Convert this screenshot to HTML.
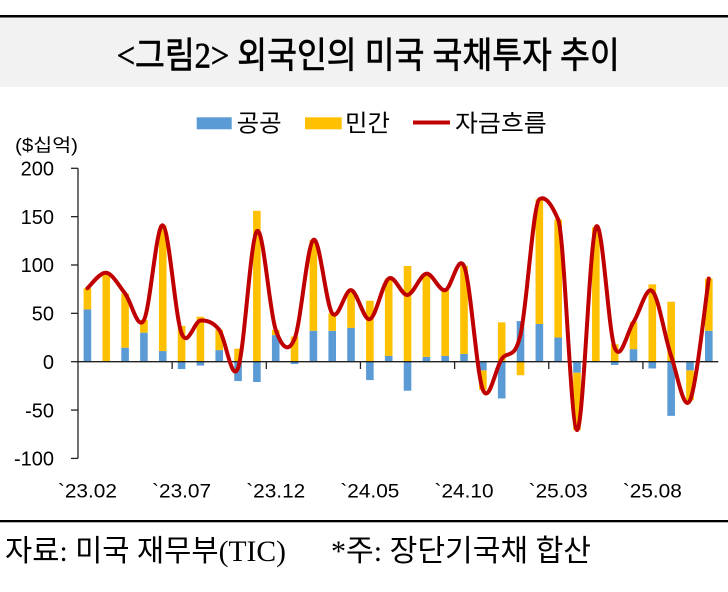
<!DOCTYPE html>
<html>
<head>
<meta charset="utf-8">
<style>
  html, body { margin:0; padding:0; background:#fff; }
  svg { display:block; }
  .kr { font-family: "Liberation Sans", "Noto Sans CJK KR", sans-serif; }
  .ttl { font-family: "Liberation Serif", "Noto Sans CJK KR", serif; }
  .num { font-family: "Liberation Sans", sans-serif; }
</style>
</head>
<body>
<svg width="728" height="592" viewBox="0 0 728 592" xmlns="http://www.w3.org/2000/svg">
  <rect x="0" y="0" width="728" height="592" fill="#ffffff"/>
  <!-- title band -->
  <rect x="0" y="17" width="728" height="70" fill="#F2F2F2"/>
  <rect x="0" y="15" width="728" height="2.5" fill="#000"/>
  <text class="ttl" x="116.7" y="67.5" font-size="36" fill="#000" stroke="#000" stroke-width="0.7" textLength="503" lengthAdjust="spacingAndGlyphs">&lt;그림2&gt; 외국인의 미국 국채투자 추이</text>

  <!-- legend -->
  <rect x="196.7" y="117.3" width="35" height="12" fill="#5B9BD5"/>
  <text class="kr" x="236.7" y="131.5" font-size="24" fill="#000" textLength="45" lengthAdjust="spacingAndGlyphs">공공</text>
  <rect x="305" y="117.3" width="36.7" height="12" fill="#FFC000"/>
  <text class="kr" x="345" y="131.5" font-size="24" fill="#000" textLength="45" lengthAdjust="spacingAndGlyphs">민간</text>
  <line x1="413" y1="122.5" x2="450" y2="122.5" stroke="#C00000" stroke-width="4"/>
  <text class="kr" x="455" y="131.5" font-size="24" fill="#000" textLength="91.7" lengthAdjust="spacingAndGlyphs">자금흐름</text>

  <!-- unit -->
  <text class="kr" x="15" y="151.5" font-size="18" fill="#000" textLength="63" lengthAdjust="spacingAndGlyphs">($십억)</text>

  <!-- y labels -->
  <g class="num" font-size="20" fill="#000" text-anchor="end">
    <text x="54" y="175.5">200</text>
    <text x="54" y="223.85">150</text>
    <text x="54" y="272.2">100</text>
    <text x="54" y="320.55">50</text>
    <text x="54" y="368.9">0</text>
    <text x="54" y="417.25">-50</text>
    <text x="54" y="465.6">-100</text>
  </g>

  <!-- bars: public (blue) -->
  <g fill="#5B9BD5">
    <rect x="83.62" y="309.48" width="7.6" height="52.22"/>
    <rect x="121.28" y="347.68" width="7.6" height="14.02"/>
    <rect x="140.11" y="332.69" width="7.6" height="29.01"/>
    <rect x="158.94" y="351.06" width="7.6" height="10.64"/>
    <rect x="177.77" y="361.7" width="7.6" height="7.35"/>
    <rect x="196.60" y="361.7" width="7.6" height="3.87"/>
    <rect x="215.43" y="350.10" width="7.6" height="11.60"/>
    <rect x="234.26" y="361.7" width="7.6" height="19.34"/>
    <rect x="253.09" y="361.7" width="7.6" height="20.31"/>
    <rect x="271.92" y="335.11" width="7.6" height="26.59"/>
    <rect x="290.75" y="361.7" width="7.6" height="2.32"/>
    <rect x="309.58" y="330.76" width="7.6" height="30.94"/>
    <rect x="328.41" y="330.76" width="7.6" height="30.94"/>
    <rect x="347.24" y="327.85" width="7.6" height="33.85"/>
    <rect x="366.07" y="361.7" width="7.6" height="18.37"/>
    <rect x="384.90" y="355.90" width="7.6" height="5.80"/>
    <rect x="403.73" y="361.7" width="7.6" height="29.01"/>
    <rect x="422.56" y="356.86" width="7.6" height="4.84"/>
    <rect x="441.39" y="355.90" width="7.6" height="5.80"/>
    <rect x="460.22" y="353.96" width="7.6" height="7.74"/>
    <rect x="479.05" y="361.7" width="7.6" height="8.70"/>
    <rect x="497.88" y="361.7" width="7.6" height="36.75"/>
    <rect x="516.71" y="321.09" width="7.6" height="40.61"/>
    <rect x="535.54" y="323.99" width="7.6" height="37.71"/>
    <rect x="554.37" y="337.52" width="7.6" height="24.18"/>
    <rect x="573.20" y="361.7" width="7.6" height="11.02"/>
    <rect x="610.86" y="361.7" width="7.6" height="3.29"/>
    <rect x="629.69" y="349.13" width="7.6" height="12.57"/>
    <rect x="648.52" y="361.7" width="7.6" height="6.77"/>
    <rect x="667.35" y="361.7" width="7.6" height="54.15"/>
    <rect x="686.18" y="361.7" width="7.6" height="8.70"/>
    <rect x="705.01" y="330.76" width="7.6" height="30.94"/>
  </g>
  <!-- bars: private (yellow) -->
  <g fill="#FFC000">
    <rect x="83.62" y="288.21" width="7.6" height="21.27"/>
    <rect x="102.45" y="272.74" width="7.6" height="88.96"/>
    <rect x="121.28" y="293.53" width="7.6" height="54.15"/>
    <rect x="140.11" y="320.12" width="7.6" height="12.57"/>
    <rect x="158.94" y="225.35" width="7.6" height="125.71"/>
    <rect x="177.77" y="325.92" width="7.6" height="35.78"/>
    <rect x="196.60" y="316.73" width="7.6" height="44.97"/>
    <rect x="215.43" y="329.79" width="7.6" height="20.31"/>
    <rect x="234.26" y="348.74" width="7.6" height="12.96"/>
    <rect x="253.09" y="210.85" width="7.6" height="150.85"/>
    <rect x="271.92" y="329.79" width="7.6" height="5.32"/>
    <rect x="290.75" y="336.56" width="7.6" height="25.14"/>
    <rect x="309.58" y="239.86" width="7.6" height="90.90"/>
    <rect x="328.41" y="313.35" width="7.6" height="17.41"/>
    <rect x="347.24" y="290.14" width="7.6" height="37.71"/>
    <rect x="366.07" y="300.78" width="7.6" height="60.92"/>
    <rect x="384.90" y="278.54" width="7.6" height="77.36"/>
    <rect x="403.73" y="265.97" width="7.6" height="95.73"/>
    <rect x="422.56" y="273.70" width="7.6" height="83.16"/>
    <rect x="441.39" y="290.14" width="7.6" height="65.76"/>
    <rect x="460.22" y="265.97" width="7.6" height="87.99"/>
    <rect x="479.05" y="370.40" width="7.6" height="19.34"/>
    <rect x="497.88" y="322.34" width="7.6" height="39.36"/>
    <rect x="516.71" y="361.7" width="7.6" height="13.54"/>
    <rect x="535.54" y="199.24" width="7.6" height="124.75"/>
    <rect x="554.37" y="219.55" width="7.6" height="117.97"/>
    <rect x="573.20" y="372.72" width="7.6" height="57.34"/>
    <rect x="592.03" y="227.29" width="7.6" height="134.41"/>
    <rect x="610.86" y="344.29" width="7.6" height="17.41"/>
    <rect x="629.69" y="322.05" width="7.6" height="27.08"/>
    <rect x="648.52" y="284.34" width="7.6" height="77.36"/>
    <rect x="667.35" y="301.75" width="7.6" height="59.95"/>
    <rect x="686.18" y="370.40" width="7.6" height="29.98"/>
    <rect x="705.01" y="278.54" width="7.6" height="52.22"/>
  </g>

  <!-- axes -->
  <g stroke="#222" stroke-width="1.3" fill="none">
    <line x1="78" y1="168.3" x2="78" y2="458.4"/>
    <line x1="71" y1="168.3" x2="78" y2="168.3"/>
    <line x1="71" y1="216.65" x2="78" y2="216.65"/>
    <line x1="71" y1="265.0" x2="78" y2="265.0"/>
    <line x1="71" y1="313.35" x2="78" y2="313.35"/>
    <line x1="71" y1="361.7" x2="78" y2="361.7"/>
    <line x1="71" y1="410.05" x2="78" y2="410.05"/>
    <line x1="71" y1="458.4" x2="78" y2="458.4"/>
    <line x1="78" y1="361.7" x2="718.3" y2="361.7"/>
    <line x1="172.15" y1="361.7" x2="172.15" y2="369"/>
    <line x1="266.3" y1="361.7" x2="266.3" y2="369"/>
    <line x1="360.45" y1="361.7" x2="360.45" y2="369"/>
    <line x1="454.6" y1="361.7" x2="454.6" y2="369"/>
    <line x1="548.75" y1="361.7" x2="548.75" y2="369"/>
    <line x1="642.9" y1="361.7" x2="642.9" y2="369"/>
  </g>

  <!-- flow line -->
  <path fill="none" stroke="#C00000" stroke-width="4" stroke-linejoin="round" stroke-linecap="round"
    d="M 87.42 288.21
       C 90.56 285.63, 99.97 271.85, 106.25 272.74
       C 112.53 273.63, 118.80 285.63, 125.08 293.53
       C 131.36 301.43, 137.63 331.48, 143.91 320.12
       C 150.19 308.76, 156.46 223.16, 162.74 225.35
       C 169.02 227.54, 175.29 317.39, 181.57 333.27
       C 187.85 349.15, 194.12 321.18, 200.40 320.60
       C 206.68 320.02, 212.95 321.88, 219.23 329.79
       C 225.51 337.70, 231.78 384.52, 238.06 368.08
       C 244.34 351.64, 250.61 237.53, 256.89 231.15
       C 263.17 224.77, 269.44 311.83, 275.72 329.79
       C 282.00 347.75, 288.27 353.87, 294.55 338.88
       C 300.83 323.89, 307.10 244.12, 313.38 239.86
       C 319.66 235.60, 325.93 304.97, 332.21 313.35
       C 338.49 321.73, 344.76 289.17, 351.04 290.14
       C 357.32 291.11, 363.59 321.08, 369.87 319.15
       C 376.15 317.22, 382.42 282.57, 388.70 278.54
       C 394.98 274.51, 401.25 295.79, 407.53 294.98
       C 413.81 294.17, 420.08 274.51, 426.36 273.70
       C 432.64 272.89, 438.91 291.43, 445.19 290.14
       C 451.47 288.85, 457.74 253.37, 464.02 265.97
       C 470.30 278.57, 476.57 374.22, 482.85 389.74
       C 489.13 405.26, 495.40 368.28, 501.68 359.09
       C 507.96 349.90, 514.23 361.26, 520.51 334.62
       C 526.79 307.98, 533.06 203.42, 539.34 199.24
       C 545.62 195.06, 551.89 205.00, 558.17 219.55
       C 564.45 234.10, 570.72 428.78, 577.00 430.07
       C 583.28 431.36, 589.55 241.04, 595.83 227.29
       C 602.11 213.54, 608.38 331.79, 614.66 347.58
       C 620.94 363.37, 627.21 331.46, 633.49 322.05
       C 639.77 312.64, 646.04 285.47, 652.32 291.11
       C 658.60 296.75, 664.87 337.69, 671.15 355.90
       C 677.43 374.11, 683.70 413.27, 689.98 400.38
       C 696.26 387.49, 705.67 298.85, 708.81 278.54"/>

  <!-- x labels -->
  <g class="num" font-size="19" fill="#000" text-anchor="middle">
    <text x="87.42" y="497.7" textLength="59" lengthAdjust="spacingAndGlyphs">`23.02</text>
    <text x="181.57" y="497.7" textLength="59" lengthAdjust="spacingAndGlyphs">`23.07</text>
    <text x="275.72" y="497.7" textLength="59" lengthAdjust="spacingAndGlyphs">`23.12</text>
    <text x="369.87" y="497.7" textLength="59" lengthAdjust="spacingAndGlyphs">`24.05</text>
    <text x="464.02" y="497.7" textLength="59" lengthAdjust="spacingAndGlyphs">`24.10</text>
    <text x="558.17" y="497.7" textLength="59" lengthAdjust="spacingAndGlyphs">`25.03</text>
    <text x="652.32" y="497.7" textLength="59" lengthAdjust="spacingAndGlyphs">`25.08</text>
  </g>

  <!-- footer -->
  <rect x="0" y="520" width="728" height="2.3" fill="#000"/>
  <text class="ttl" x="5" y="561" font-size="30" fill="#000" textLength="281" lengthAdjust="spacingAndGlyphs">자료: 미국 재무부(TIC)</text>
  <text class="ttl" x="331" y="561" font-size="30" fill="#000" textLength="260" lengthAdjust="spacingAndGlyphs">*주: 장단기국채 합산</text>
</svg>
</body>
</html>
